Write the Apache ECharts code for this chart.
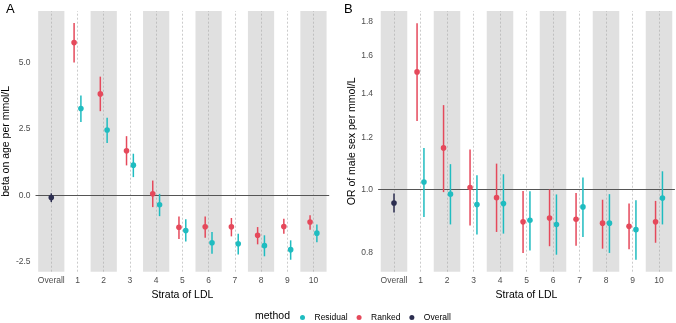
<!DOCTYPE html>
<html>
<head>
<meta charset="utf-8">
<script src="https://cdn.jsdelivr.net/npm/echarts@6/dist/echarts.min.js"></script>
<style>
  html, body { margin: 0; padding: 0; background: #fff; }
  #main { width: 676px; height: 323px; }
</style>
</head>
<body>
<div id="main"></div>
<script>
// strata on the x axis (index 0 = Overall)
var categories = ['Overall', '1', '2', '3', '4', '5', '6', '7', '8', '9', '10'];
var methods = ['Residual', 'Ranked', 'Overall'];

// panel A: beta on age per mmol/L  [estimate, lower, upper]
var overallA = [-0.08, -0.25, 0.08];
var rankedA = [5.75, 3.82, 1.68, 0.06, -1.20, -1.18, -1.18, -1.50, -1.17, -1.00];
var rankedA_lo = [5.00, 3.17, 1.13, -0.44, -1.64, -1.59, -1.54, -1.84, -1.44, -1.29];
var rankedA_hi = [6.49, 4.47, 2.23, 0.56, -0.79, -0.79, -0.85, -1.19, -0.88, -0.75];
var residA = [3.27, 2.46, 1.14, -0.35, -1.32, -1.78, -1.82, -1.89, -2.04, -1.42];
var residA_lo = [2.76, 1.97, 0.69, -0.78, -1.73, -2.19, -2.22, -2.29, -2.42, -1.76];
var residA_hi = [3.76, 2.92, 1.57, 0.06, -0.90, -1.38, -1.44, -1.50, -1.69, -1.09];
var ticksA = [-2.5, 0, 2.5, 5];

// panel B: OR of male sex per mmol/L (log scale)
var overallB = [0.953, 0.922, 0.985];
var rankedB = [1.509, 1.156, 1.006, 0.971, 0.892, 0.904, 0.900, 0.888, 0.878, 0.892];
var rankedB_lo = [1.27, 0.99, 0.881, 0.861, 0.800, 0.819, 0.820, 0.812, 0.810, 0.829];
var rankedB_hi = [1.79, 1.343, 1.15, 1.094, 0.994, 0.999, 0.987, 0.964, 0.951, 0.960];
var residB = [1.026, 0.983, 0.948, 0.951, 0.897, 0.884, 0.940, 0.888, 0.868, 0.970];
var residB_lo = [0.907, 0.884, 0.853, 0.856, 0.807, 0.795, 0.846, 0.800, 0.781, 0.884];
var residB_hi = [1.156, 1.092, 1.050, 1.054, 0.993, 0.982, 1.042, 0.983, 0.962, 1.065];
var ticksB = [0.8, 1.0, 1.2, 1.4, 1.6, 1.8];

var colors = { Residual: '#1fbcc0', Ranked: '#e5495b', Overall: '#2c2e50' };
var FONT = '"Liberation Sans", Arial, sans-serif';
var DODGE = 0.13;

var myChart = echarts.init(document.getElementById('main'));

function rows(est, lo, hi, offset, tf) {
  return est.map(function (v, i) {
    return [i + 1 + offset, tf(v), tf(lo[i]), tf(hi[i])];
  });
}
function same(v) { return v; }

function renderItem(params, api) {
  var x = api.value(0);
  var p = api.coord([x, api.value(1)]);
  var lo = api.coord([x, api.value(2)]);
  var hi = api.coord([x, api.value(3)]);
  var c = api.visual('color');
  return {
    type: 'group',
    children: [
      { type: 'line', shape: { x1: lo[0], y1: lo[1], x2: hi[0], y2: hi[1] }, style: { stroke: c, lineWidth: 1.5 } },
      { type: 'circle', shape: { cx: p[0], cy: p[1], r: 2.8 }, style: { fill: c } }
    ]
  };
}

// grey bands behind every other stratum + dotted centre lines
var bands = [];
for (var i = 0; i < categories.length; i += 2) {
  bands.push([{ xAxis: i - 0.5 }, { xAxis: i + 0.5 }]);
}
var centres = categories.map(function (c, i) { return { xAxis: i }; });

function background(idx, refY) {
  return {
    type: 'scatter', xAxisIndex: idx, yAxisIndex: idx, data: [], silent: true, z: 1,
    markArea: { silent: true, itemStyle: { color: '#e0e0e0' }, data: bands },
    markLine: {
      silent: true, symbol: 'none', animation: false,
      label: { show: false },
      data: centres.map(function (d) {
        return { xAxis: d.xAxis, lineStyle: { color: '#a8a8a8', width: 0.6, type: [2, 2] } };
      }).concat([{ yAxis: refY, lineStyle: { color: '#555', width: 1, type: 'solid' } }])
    }
  };
}

function points(idx, name, data) {
  return {
    type: 'custom', name: name, xAxisIndex: idx, yAxisIndex: idx, z: 5,
    itemStyle: { color: colors[name] },
    renderItem: renderItem,
    encode: { x: 0, y: [1, 2, 3] },
    data: data
  };
}

function xAxis(idx) {
  return {
    type: 'value', gridIndex: idx, min: -0.6, max: 10.6,
    name: 'Strata of LDL', nameLocation: 'middle', nameGap: 12,
    nameTextStyle: { fontFamily: FONT, fontSize: 10.5, color: '#000' },
    axisLine: { show: false }, axisTick: { show: false }, splitLine: { show: false },
    axisLabel: {
      customValues: categories.map(function (c, i) { return i; }),
      formatter: function (v) { return categories[Math.round(v)]; },
      margin: 4, fontFamily: FONT, fontSize: 8.5, color: '#4d4d4d'
    }
  };
}

function yAxis(idx, name, min, max, ticks, tf, nameGap) {
  return {
    type: 'value', gridIndex: idx, min: min, max: max,
    name: name, nameLocation: 'middle', nameGap: nameGap,
    nameTextStyle: { fontFamily: FONT, fontSize: 10.5, color: '#000' },
    axisLine: { show: false }, axisTick: { show: false }, splitLine: { show: false },
    axisLabel: {
      customValues: ticks.map(tf),
      formatter: function (v) {
        var t = ticks.reduce(function (a, b) { return Math.abs(tf(b) - v) < Math.abs(tf(a) - v) ? b : a; });
        return t.toFixed(1);
      },
      margin: 5, fontFamily: FONT, fontSize: 8.5, color: '#4d4d4d'
    }
  };
}

myChart.setOption({
  animation: false,
  grid: [
    { left: 32.4, top: 11, width: 296.8, height: 260.7 },
    { left: 378.1, top: 11, width: 296.8, height: 260.7 }
  ],
  title: [
    { text: 'A', left: 1, top: -2, textStyle: { fontFamily: FONT, fontSize: 13, fontWeight: 'normal', color: '#000' } },
    { text: 'B', left: 339, top: -2, textStyle: { fontFamily: FONT, fontSize: 13, fontWeight: 'normal', color: '#000' } },
    { text: 'method', left: 250, top: 306, textStyle: { fontFamily: FONT, fontSize: 10.5, fontWeight: 'normal', color: '#000' } }
  ],
  legend: {
    data: methods, left: 295, top: 308, icon: 'circle',
    itemWidth: 14, itemHeight: 5, itemGap: 9, selectedMode: false,
    textStyle: { fontFamily: FONT, fontSize: 8.5, color: '#000' }
  },
  xAxis: [xAxis(0), xAxis(1)],
  yAxis: [
    yAxis(0, 'beta on age per mmol/L', -2.87, 6.94, ticksA, same, 21),
    yAxis(1, 'OR of male sex per mmol/L', Math.log(0.749), Math.log(1.868), ticksB, Math.log, 20)
  ],
  series: [
    background(0, 0),
    points(0, 'Ranked', rows(rankedA, rankedA_lo, rankedA_hi, -DODGE, same)),
    points(0, 'Residual', rows(residA, residA_lo, residA_hi, DODGE, same)),
    points(0, 'Overall', [[0, overallA[0], overallA[1], overallA[2]]]),
    background(1, 0),
    points(1, 'Ranked', rows(rankedB, rankedB_lo, rankedB_hi, -DODGE, Math.log)),
    points(1, 'Residual', rows(residB, residB_lo, residB_hi, DODGE, Math.log)),
    points(1, 'Overall', [[0, Math.log(overallB[0]), Math.log(overallB[1]), Math.log(overallB[2])]])
  ]
});
</script>
</body>
</html>
